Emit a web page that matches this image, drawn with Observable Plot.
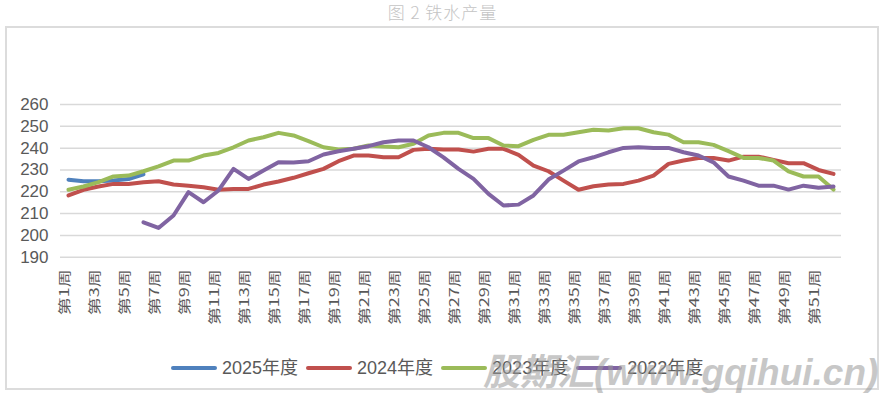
<!DOCTYPE html>
<html><head><meta charset="utf-8">
<script src="https://cdn.jsdelivr.net/npm/d3@7"></script>
<script src="https://cdn.jsdelivr.net/npm/@observablehq/plot@0.6"></script>
<style>
body{margin:0;background:#fff;width:885px;height:396px;overflow:hidden;position:relative;font-family:"Liberation Sans","Noto Sans CJK SC",sans-serif;}
#title{position:absolute;left:0;top:2px;width:885px;text-align:center;font-size:17px;color:#c4c4c4;line-height:19px;letter-spacing:1px;font-family:"Noto Sans CJK SC",sans-serif;font-weight:300}
#box{position:absolute;left:5px;top:26px;width:874px;height:364px;border:2px solid #dcdcdc;box-sizing:border-box}
#chart{position:absolute;left:0;top:0}
#legend{position:absolute;left:171px;top:357px;display:flex;align-items:center;font-size:18px;color:#595959;line-height:22px}
.sw{width:46px;height:4px;border-radius:2px;margin-right:5px}
.lb{margin-right:8px}
#wm{position:absolute;left:483px;top:342px;font:italic bold 37px "Liberation Sans","Noto Sans CJK SC",sans-serif;color:#9a9a9a;opacity:0.55;white-space:nowrap}
</style></head>
<body>
<div id="title">图 2 铁水产量</div>
<div id="box"></div>
<div id="chart"></div>
<div id="legend"></div>
<div id="wm">股期汇(www.gqihui.cn)</div>
<script>
const weeks = Array.from({length: 52}, (_, i) => `第${i + 1}周`);
const tickLabels = weeks.filter((_, i) => i % 2 === 0);
const yTicks = [190, 200, 210, 220, 230, 240, 250, 260];
const names = ["2025年度", "2024年度", "2023年度", "2022年度"];
const colors = ["#4F81BD", "#C0504D", "#9BBB59", "#8064A2"];

const v2025 = [225.5, 224.8, 224.8, 225.2, 225.8, 228.0];
const v2024 = [218.3, 220.9, 222.4, 223.6, 223.6, 224.4, 224.8, 223.3, 222.7, 222.1,
  220.9, 221.3, 221.3, 223.3, 224.7, 226.4, 228.5, 230.5, 234.0, 236.6,
  236.6, 235.8, 235.8, 239.2, 239.7, 239.4, 239.4, 238.4, 239.7, 239.7,
  236.9, 232.0, 229.4, 225.1, 220.9, 222.5, 223.3, 223.6, 225.1, 227.4,
  232.8, 234.3, 235.5, 235.5, 234.3, 236.1, 236.1, 234.6, 233.1, 233.1,
  230.0, 228.2];
const v2023 = [220.9, 222.4, 224.4, 227.0, 227.4, 229.4, 231.6, 234.3, 234.3, 236.6,
  237.8, 240.4, 243.5, 245.0, 247.0, 245.8, 243.2, 240.4, 239.4, 239.7,
  241.2, 240.7, 240.4, 242.0, 245.8, 247.0, 247.0, 244.6, 244.6, 241.2,
  240.9, 243.8, 246.1, 246.1, 247.3, 248.4, 248.1, 249.1, 249.1, 247.3,
  246.2, 242.7, 242.7, 241.5, 238.6, 235.5, 235.5, 234.3, 229.3, 227.0,
  227.0, 221.0];
const v2022 = [null, null, null, null, null, 206.0, 203.4, 209.1, 219.8, 215.2,
  220.6, 230.5, 225.9, 229.7, 233.5, 233.4, 234.0, 237.1, 238.6, 239.7,
  240.9, 242.7, 243.5, 243.5, 240.4, 235.8, 230.5, 225.9, 219.0, 213.7,
  214.1, 218.3, 225.6, 229.7, 233.9, 235.8, 238.1, 240.1, 240.4, 240.1,
  240.1, 238.1, 236.6, 233.5, 227.0, 225.1, 222.8, 222.8, 221.0, 222.8,
  221.8, 222.4];

const seriesValues = [v2025, v2024, v2023, v2022];
const rows = [];
seriesValues.forEach((vals, s) => vals.forEach((v, i) => {
  if (v != null) rows.push({week: weeks[i], value: v, name: names[s]});
}));

const chart = Plot.plot({
  width: 885,
  height: 345,
  marginLeft: 60,
  marginRight: 44,
  marginTop: 104,
  marginBottom: 88.3,
  style: {fontFamily: '"Liberation Sans","Noto Sans CJK SC",sans-serif', fontSize: "17px", color: "#595959", background: "transparent"},
  x: {type: "point", domain: weeks, padding: 0.5, axis: null},
  y: {domain: [190, 260], axis: null},
  color: {domain: names, range: colors},
  marks: [
    Plot.ruleY(yTicks, {stroke: "#d9d9d9", strokeWidth: 1.5}),
    Plot.axisY({ticks: yTicks, tickSize: 0, tickPadding: 12, fontSize: 17, fill: "#595959", label: null}),
    Plot.line(rows, {x: "week", y: "value", z: "name", stroke: "name", strokeWidth: 4, strokeLinejoin: "round", strokeLinecap: "round"}),
    Plot.text(tickLabels, {x: d => d, frameAnchor: "bottom", rotate: -90, textAnchor: "end", dy: 12, fontSize: 15, fill: "#595959", fontFamily: '"Noto Sans CJK SC",sans-serif'})
  ]
});
document.getElementById("chart").appendChild(chart);

d3.select(chart).selectAll('g[aria-label="text"] text').each(function() {
  const t = this.getAttribute("transform") || "";
  this.setAttribute("transform", t + " scale(1.2,0.85)");
});

const legend = d3.select("#legend");
names.forEach((n, i) => {
  legend.append("div").attr("class", "sw").style("background", colors[i]);
  legend.append("div").attr("class", "lb").text(n);
});
</script>
</body></html>
